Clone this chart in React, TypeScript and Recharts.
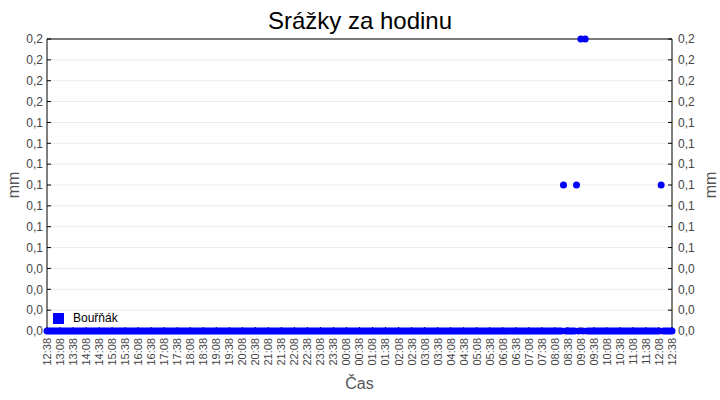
import React from 'react';
import {
  ComposedChart,
  Line,
  XAxis,
  YAxis,
  CartesianGrid,
  ReferenceLine,
  Legend,
} from 'recharts';

const TITLE = 'Srážky za hodinu';
const SERIES_NAME = 'Bouřňák';
const X_LABEL = 'Čas';
const Y_LABEL = 'mm';

// rainfall per 5-minute sample, one row per hour starting at 12:38
const rainValues: number[] = [
  0, 0, 0, 0, 0, 0, 0, 0, 0, 0, 0, 0, // 12:38
  0, 0, 0, 0, 0, 0, 0, 0, 0, 0, 0, 0, // 13:38
  0, 0, 0, 0, 0, 0, 0, 0, 0, 0, 0, 0, // 14:38
  0, 0, 0, 0, 0, 0, 0, 0, 0, 0, 0, 0, // 15:38
  0, 0, 0, 0, 0, 0, 0, 0, 0, 0, 0, 0, // 16:38
  0, 0, 0, 0, 0, 0, 0, 0, 0, 0, 0, 0, // 17:38
  0, 0, 0, 0, 0, 0, 0, 0, 0, 0, 0, 0, // 18:38
  0, 0, 0, 0, 0, 0, 0, 0, 0, 0, 0, 0, // 19:38
  0, 0, 0, 0, 0, 0, 0, 0, 0, 0, 0, 0, // 20:38
  0, 0, 0, 0, 0, 0, 0, 0, 0, 0, 0, 0, // 21:38
  0, 0, 0, 0, 0, 0, 0, 0, 0, 0, 0, 0, // 22:38
  0, 0, 0, 0, 0, 0, 0, 0, 0, 0, 0, 0, // 23:38
  0, 0, 0, 0, 0, 0, 0, 0, 0, 0, 0, 0, // 00:38
  0, 0, 0, 0, 0, 0, 0, 0, 0, 0, 0, 0, // 01:38
  0, 0, 0, 0, 0, 0, 0, 0, 0, 0, 0, 0, // 02:38
  0, 0, 0, 0, 0, 0, 0, 0, 0, 0, 0, 0, // 03:38
  0, 0, 0, 0, 0, 0, 0, 0, 0, 0, 0, 0, // 04:38
  0, 0, 0, 0, 0, 0, 0, 0, 0, 0, 0, 0, // 05:38
  0, 0, 0, 0, 0, 0, 0, 0, 0, 0, 0, 0, // 06:38
  0, 0, 0, 0, 0, 0, 0, 0, 0, 0, 0.1, 0, // 07:38
  0, 0, 0, 0, 0.1, 0, 0.2, 0, 0.2, 0, 0, 0, // 08:38
  0, 0, 0, 0, 0, 0, 0, 0, 0, 0, 0, 0, // 09:38
  0, 0, 0, 0, 0, 0, 0, 0, 0, 0, 0, 0, // 10:38
  0, 0, 0, 0, 0, 0, 0, 0.1, 0, 0, 0, 0, // 11:38
  0, // 12:38
];

const timeTickLabels: string[] = [
  '12:38', '13:08', '13:38', '14:08', '14:38', '15:08', '15:38', '16:08',
  '16:38', '17:08', '17:38', '18:08', '18:38', '19:08', '19:38', '20:08',
  '20:38', '21:08', '21:38', '22:08', '22:38', '23:08', '23:38', '00:08',
  '00:38', '01:08', '01:38', '02:08', '02:38', '03:08', '03:38', '04:08',
  '04:38', '05:08', '05:38', '06:08', '06:38', '07:08', '07:38', '08:08',
  '08:38', '09:08', '09:38', '10:08', '10:38', '11:08', '11:38', '12:08',
  '12:38',
];

const Y_MAX = 0.2;
const Y_TICK_COUNT = 15;
const SAMPLE_MINUTES = 5;
const TICK_MINUTES = 30;

const data = rainValues.map((v, i) => ({ t: i * SAMPLE_MINUTES, rain: v }));
const xTicks = timeTickLabels.map((_, i) => i * TICK_MINUTES);
const yTicks = Array.from({ length: Y_TICK_COUNT }, (_, i) => (Y_MAX * i) / (Y_TICK_COUNT - 1));

const FONT = '"Liberation Sans", Arial, sans-serif';
const fmtY = (v: number) => v.toFixed(1).replace('.', ',');

const XTick = (props: any) => {
  const { x, y, payload } = props;
  const label = timeTickLabels[Math.round(payload.value / TICK_MINUTES)];
  return (
    <text
      x={x}
      y={y}
      transform={`rotate(-90, ${x}, ${y})`}
      textAnchor="end"
      dy="0.36em"
      fontSize={11}
      fontFamily={FONT}
      fill="#444"
    >
      {label}
    </text>
  );
};

const LegendContent = () => (
  <div style={{ display: 'flex', alignItems: 'center', fontFamily: FONT, fontSize: 12, color: '#000' }}>
    <span style={{ width: 11, height: 11, background: '#0000ff', display: 'inline-block', marginRight: 9 }} />
    <span>{SERIES_NAME}</span>
  </div>
);

export default function App() {
  return (
    <div style={{ position: 'absolute', left: 0, top: 0, width: 720, height: 400, background: '#fff' }}>
      <div
        style={{
          position: 'absolute',
          left: 0,
          top: 7,
          width: 720,
          textAlign: 'center',
          fontFamily: FONT,
          fontSize: 24,
          color: '#000',
          lineHeight: '28px',
        }}
      >
        {TITLE}
      </div>
      <ComposedChart
        width={720}
        height={400}
        data={data}
        margin={{ top: 39, right: 0, bottom: 29, left: 0 }}
      >
        <CartesianGrid vertical={false} stroke="#ebebeb" yAxisId="left" />
        <XAxis
          dataKey="t"
          type="number"
          domain={[0, 1440]}
          ticks={xTicks}
          interval={0}
          tick={<XTick />}
          tickSize={-4}
          tickMargin={11}
          height={40}
          axisLine={{ stroke: '#000' }}
          tickLine={{ stroke: '#000' }}
          label={{
            value: X_LABEL,
            position: 'insideBottom',
            offset: -18,
            fill: '#555',
            fontSize: 16,
            fontFamily: FONT,
          }}
        />
        <YAxis
          yAxisId="left"
          domain={[0, Y_MAX]}
          ticks={yTicks}
          interval={0}
          width={47}
          tickFormatter={fmtY}
          tickSize={-4}
          tickMargin={8}
          axisLine={{ stroke: '#000' }}
          tickLine={{ stroke: '#000' }}
          tick={{ fill: '#444', fontSize: 12, fontFamily: FONT }}
          label={{
            value: Y_LABEL,
            angle: -90,
            position: 'insideLeft',
            offset: 13,
            fill: '#555',
            fontSize: 16,
            fontFamily: FONT,
            style: { textAnchor: 'middle' },
          }}
        />
        <YAxis
          yAxisId="right"
          orientation="right"
          domain={[0, Y_MAX]}
          ticks={yTicks}
          interval={0}
          width={48}
          tickFormatter={fmtY}
          tickSize={-4}
          tickMargin={10}
          axisLine={{ stroke: '#000' }}
          tickLine={{ stroke: '#000' }}
          tick={{ fill: '#444', fontSize: 12, fontFamily: FONT }}
          label={{
            value: Y_LABEL,
            angle: -90,
            position: 'insideRight',
            offset: 10,
            fill: '#555',
            fontSize: 16,
            fontFamily: FONT,
            style: { textAnchor: 'middle' },
          }}
        />
        <ReferenceLine yAxisId="left" y={Y_MAX} stroke="#000" strokeWidth={1} />
        <Legend
          layout="horizontal"
          align="center"
          verticalAlign="middle"
          content={<LegendContent />}
          wrapperStyle={{ position: 'absolute', left: 53, top: 311, width: 'auto' }}
        />
        <Line
          yAxisId="right"
          dataKey="rain"
          stroke="none"
          legendType="none"
          isAnimationActive={false}
          dot={false}
          activeDot={false}
        />
        <Line
          yAxisId="left"
          dataKey="rain"
          name={SERIES_NAME}
          stroke="none"
          isAnimationActive={false}
          dot={{ r: 3.5, fill: '#0000ff', stroke: 'none' }}
          activeDot={false}
        />
      </ComposedChart>
    </div>
  );
}
